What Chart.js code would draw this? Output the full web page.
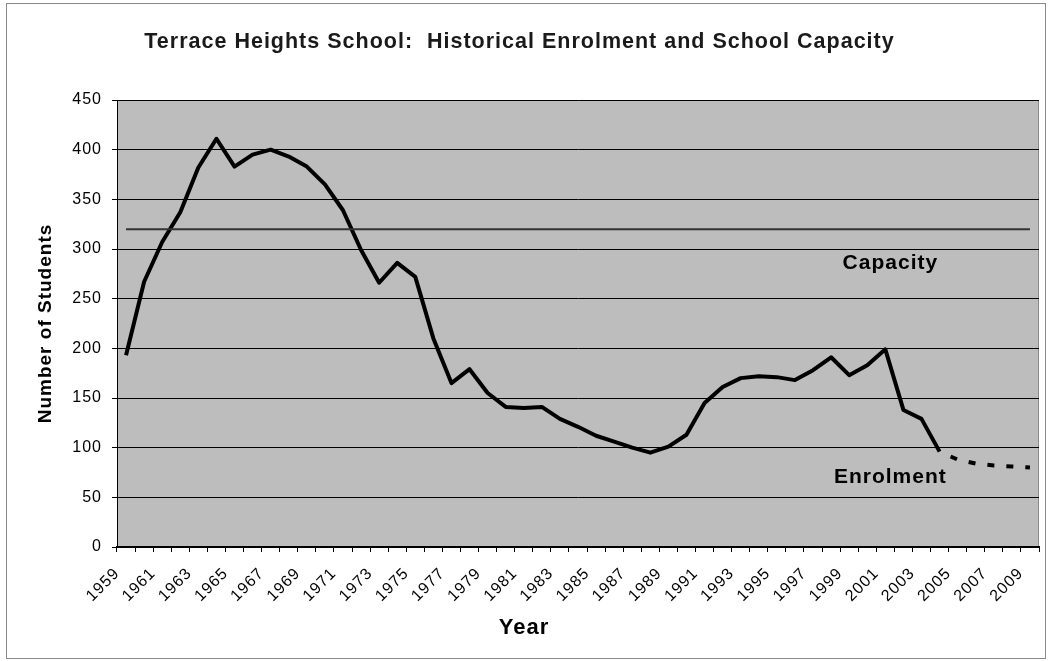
<!DOCTYPE html>
<html>
<head>
<meta charset="utf-8">
<script src="https://cdn.jsdelivr.net/npm/chart.js@4.4.0/dist/chart.umd.min.js"></script>
<style>
  html, body { margin: 0; padding: 0; background: #fff; }
  #wrap { width: 1048px; height: 661px; }
</style>
</head>
<body>
<div id="wrap"><canvas id="chart"></canvas></div>
<script>
// Years on the category axis
const years = [
    '1959', '1960', '1961', '1962', '1963', '1964', '1965', '1966', '1967', '1968',
    '1969', '1970', '1971', '1972', '1973', '1974', '1975', '1976', '1977', '1978',
    '1979', '1980', '1981', '1982', '1983', '1984', '1985', '1986', '1987', '1988',
    '1989', '1990', '1991', '1992', '1993', '1994', '1995', '1996', '1997', '1998',
    '1999', '2000', '2001', '2002', '2003', '2004', '2005', '2006', '2007', '2008',
    '2009'
];

// Historical enrolment (solid line)
const enrolment = [
    193, 267, 307, 337, 382, 411, 383, 395, 400, 393,
    383, 365, 339, 299, 266, 286, 272, 210, 165, 179,
    155, 141, 140, 141, 129, 121, 112, 106, 100, 95,
    101, 113, 145, 161, 170, 172, 171, 168, 178, 191,
    173, 183, 199, 138, 129, 96, null, null, null, null,
    null
];

// Projected enrolment (dashed line)
const projected = [
    null, null, null, null, null, null, null, null, null, null,
    null, null, null, null, null, null, null, null, null, null,
    null, null, null, null, null, null, null, null, null, null,
    null, null, null, null, null, null, null, null, null, null,
    null, null, null, null, null, 96, 88, 84, 82, 81,
    80
];

// School capacity
const capacity = [
    320, 320, 320, 320, 320, 320, 320, 320, 320, 320,
    320, 320, 320, 320, 320, 320, 320, 320, 320, 320,
    320, 320, 320, 320, 320, 320, 320, 320, 320, 320,
    320, 320, 320, 320, 320, 320, 320, 320, 320, 320,
    320, 320, 320, 320, 320, 320, 320, 320, 320, 320,
    320
];

const yTicks = [0, 50, 100, 150, 200, 250, 300, 350, 400, 450];

const FONT = 'Arial, "Liberation Sans", sans-serif';

// Сірий фон області графіка + рамка всього рисунка
const plotBackground = {
    id: 'plotBackground',
    beforeDraw(chart) {
        const { ctx, chartArea: a } = chart;
        // текст в оригіналі трохи розтягнутий по горизонталі
        ctx.letterSpacing = '1px';
        ctx.save();
        ctx.strokeStyle = '#8a8a8a';
        ctx.lineWidth = 1;
        ctx.strokeRect(6.5, 3.5, 1039, 655);
        ctx.fillStyle = '#bdbdbd';
        ctx.fillRect(a.left, a.top, a.right - a.left, a.bottom - a.top);
        ctx.strokeStyle = '#555';
        ctx.setLineDash([1, 1]);
        ctx.strokeRect(a.left + 0.5, a.top + 0.5, a.right - a.left - 1, a.bottom - a.top);
        ctx.restore();
    }
};

// Підписи ліній прямо на графіку + назва осі X (по центру всього рисунка)
const lineLabels = {
    id: 'lineLabels',
    afterDatasetsDraw(chart) {
        const { ctx, scales: { x, y } } = chart;
        const cx = (x.getPixelForValue(42) + x.getPixelForValue(43)) / 2 - 4;
        ctx.save();
        ctx.font = 'bold 21px ' + FONT;
        ctx.fillStyle = '#000';
        ctx.textAlign = 'center';
        ctx.textBaseline = 'middle';
        ctx.fillText('Capacity', cx, y.getPixelForValue(286));
        ctx.fillText('Enrolment', cx, y.getPixelForValue(70));
        ctx.font = 'bold 22px ' + FONT;
        ctx.fillText('Year', chart.width / 2, 628);
        ctx.restore();
    }
};

new Chart(document.getElementById('chart'), {
    type: 'line',
    data: {
        labels: years,
        datasets: [
            {
                label: 'Capacity',
                data: capacity,
                borderColor: '#333',
                borderWidth: 2,
                pointRadius: 0
            },
            {
                label: 'Enrolment',
                data: enrolment,
                borderColor: '#000',
                borderWidth: 4,
                pointRadius: 0,
                borderJoinStyle: 'round',
                spanGaps: false
            },
            {
                label: 'Projected',
                data: projected,
                borderColor: '#000',
                borderWidth: 4,
                borderDash: [7, 12],
                borderDashOffset: 7,
                pointRadius: 0
            }
        ]
    },
    options: {
        responsive: true,
        maintainAspectRatio: false,
        animation: false,
        layout: { padding: { left: 0, right: 9, top: 0, bottom: 0 } },
        plugins: {
            legend: { display: false },
            tooltip: { enabled: false },
            title: {
                display: true,
                text: 'Terrace Heights School:  Historical Enrolment and School Capacity',
                color: '#1a1a1a',
                font: { family: FONT, size: 21.5, weight: 'bold' },
                padding: { top: 29, bottom: 45.2 }
            }
        },
        scales: {
            x: {
                offset: true,
                afterFit(scale) {
                    scale.height = 114;
                    scale.paddingLeft = 0;
                    scale.paddingRight = 0;
                },
                grid: {
                    offset: true,
                    drawOnChartArea: false,
                    color: '#000',
                    tickLength: 5
                },
                border: { color: '#000', width: 2 },
                ticks: {
                    autoSkip: false,
                    minRotation: 45,
                    maxRotation: 45,
                    padding: 12,
                    labelOffset: -9,
                    color: '#000',
                    font: { family: FONT, size: 16 },
                    callback: (v, i) => (i % 2 === 0 ? years[i] : '')
                }
            },
            y: {
                min: 0,
                max: 450,
                afterFit(scale) { scale.width = 117; },
                afterBuildTicks(scale) { scale.ticks = yTicks.map(v => ({ value: v })); },
                grid: { color: '#000', lineWidth: 1, tickLength: 5 },
                border: { color: '#000', width: 1 },
                ticks: {
                    padding: 10,
                    color: '#000',
                    font: { family: FONT, size: 16 }
                },
                title: {
                    display: true,
                    text: 'Number of Students',
                    color: '#000',
                    font: { family: FONT, size: 19, weight: 'bold' },
                    padding: { top: 34, bottom: 0 }
                }
            }
        }
    },
    plugins: [plotBackground, lineLabels]
});
</script>
</body>
</html>
